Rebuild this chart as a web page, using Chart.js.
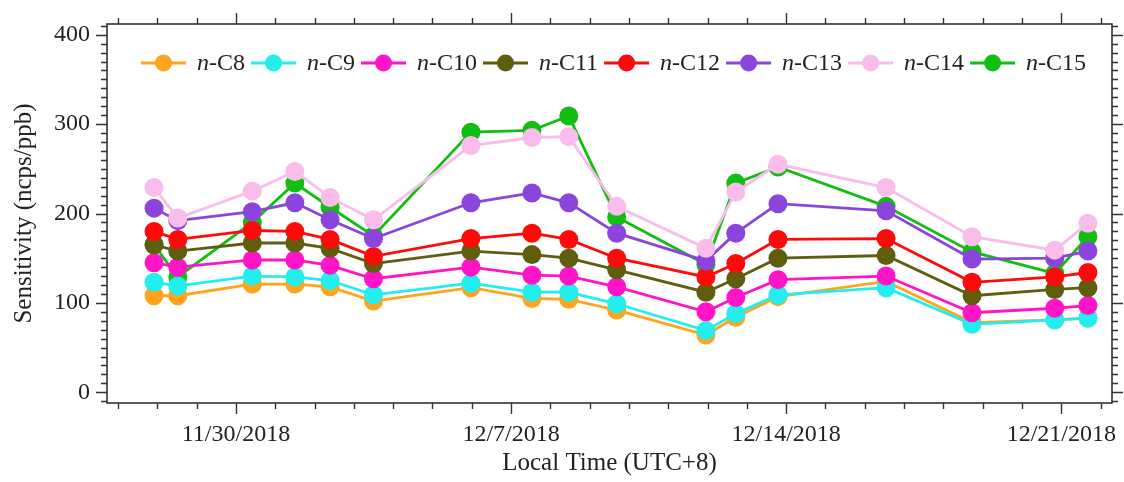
<!DOCTYPE html>
<html>
<head>
<meta charset="utf-8">
<script src="https://cdn.jsdelivr.net/npm/chart.js@4.4.0/dist/chart.umd.min.js"></script>
<style>
  html, body { margin: 0; padding: 0; background: #fff; }
  #wrap { width: 1124px; height: 482px; position: relative; }
</style>
</head>
<body>
<div id="wrap"><canvas id="chart"></canvas></div>
<script>
// ── Data ───────────────────────────────────────────────────────────────────
const sampleTimes = [
  '11/27 22:00', '11/28 12:30', '11/30 10:00', '12/01 12:00', '12/02 09:30',
  '12/03 12:00', '12/05 23:30', '12/07 12:45', '12/08 11:15', '12/09 16:30',
  '12/11 23:00', '12/12 17:15', '12/13 19:00', '12/16 13:00', '12/18 17:30',
  '12/20 20:00', '12/21 16:15',
];

const nC8  = [108, 108, 121, 121, 118, 102, 117, 105, 104,  92,  64,  84, 107, 124,  78,  81,  83];
const nC9  = [123, 119, 130, 129, 125, 109, 122, 112, 112,  99,  69,  88, 109, 117,  76,  81,  83];
const nC10 = [145, 140, 148, 148, 142, 127, 140, 131, 130, 118,  90, 106, 126, 130,  89,  94,  97];
const nC11 = [165, 158, 167, 167, 161, 144, 158, 154, 150, 137, 112, 127, 150, 153, 108, 115, 117];
const nC12 = [180, 171, 181, 180, 171, 152, 172, 178, 171, 150, 129, 144, 171, 172, 123, 129, 134];
const nC13 = [206, 192, 202, 212, 193, 172, 212, 223, 212, 178, 147, 178, 211, 203, 149, 150, 158];
const nC14 = [229, 195, 225, 247, 218, 193, 276, 285, 286, 208, 161, 224, 255, 229, 174, 159, 189];
const nC15 = [165, 129, 190, 234, 207, 175, 291, 293, 309, 196, 143, 234, 252, 208, 157, 133, 174];

const seriesNames  = ['C8', 'C9', 'C10', 'C11', 'C12', 'C13', 'C14', 'C15'];
const seriesValues = [nC8, nC9, nC10, nC11, nC12, nC13, nC14, nC15];
const seriesColors = ['#FFA41C', '#22EEEE', '#FF14C8', '#5E5E0E', '#FF0A0A', '#8B45DD', '#FABCEA', '#12BE12'];
// which series sits on top (lower = drawn later)
const seriesOrder  = [7, 6, 5, 4, 3, 2, 1, 8];

const xTickLabels = ['11/30/2018', '12/7/2018', '12/14/2018', '12/21/2018'];
const yTicks      = [0, 100, 200, 300, 400];

// ── Helpers ────────────────────────────────────────────────────────────────
const DAY = 86400000;
const ORIGIN = Date.UTC(2018, 10, 30);

function timeToDays(s) {          // 'MM/DD HH:mm' in 2018
  const [md, hm] = s.split(' ');
  const [m, d]   = md.split('/').map(Number);
  const [h, mi]  = hm.split(':').map(Number);
  return (Date.UTC(2018, m - 1, d, h, mi) - ORIGIN) / DAY;
}
function labelToDays(s) {         // 'M/D/YYYY'
  const [m, d, y] = s.split('/').map(Number);
  return (Date.UTC(y, m - 1, d) - ORIGIN) / DAY;
}

const xDays  = sampleTimes.map(timeToDays);
const xMajor = xTickLabels.map(labelToDays);

const FONT = "'Liberation Serif', 'Times New Roman', serif";
const INK  = '#222';

// ── Plugins: frame + ticks on all sides, legend with italic n ─────────────
const frameTicks = {
  id: 'frameTicks',
  afterDraw(chart) {
    const { ctx, chartArea: a, scales: { x, y } } = chart;
    ctx.save();
    ctx.strokeStyle = '#333';
    ctx.lineWidth = 1.6;
    ctx.strokeRect(a.left, a.top, a.right - a.left, a.bottom - a.top);

    ctx.lineWidth = 1.4;
    ctx.beginPath();
    for (let d = Math.ceil(x.min); d <= Math.floor(x.max); d++) {
      const px = Math.round(x.getPixelForValue(d)) + 0.5;
      const len = xMajor.includes(d) ? 11 : 6;
      ctx.moveTo(px, a.bottom); ctx.lineTo(px, a.bottom + len);
      ctx.moveTo(px, a.top);    ctx.lineTo(px, a.top - len);
    }
    for (let v = Math.ceil(y.min / 10) * 10; v <= y.max; v += 10) {
      const py = Math.round(y.getPixelForValue(v)) + 0.5;
      const len = v % 100 === 0 ? 11 : 6;
      ctx.moveTo(a.left, py);  ctx.lineTo(a.left - len, py);
      ctx.moveTo(a.right, py); ctx.lineTo(a.right + len, py);
    }
    ctx.stroke();
    ctx.restore();
  },
};

const italicLegend = {
  id: 'italicLegend',
  afterDatasetsDraw(chart) {
    const { ctx, chartArea: a } = chart;
    const cy = a.top + 39;
    let cx = a.left + 34;
    ctx.save();
    ctx.textBaseline = 'middle';
    chart.data.datasets.forEach((ds, i) => {
      ctx.strokeStyle = ds.borderColor;
      ctx.lineWidth = 2.8;
      ctx.beginPath();
      ctx.moveTo(cx, cy); ctx.lineTo(cx + 45, cy);
      ctx.stroke();
      ctx.fillStyle = ds.backgroundColor;
      ctx.beginPath();
      ctx.arc(cx + 22.5, cy, 8.5, 0, Math.PI * 2);
      ctx.fill();
      cx += 56;
      ctx.fillStyle = INK;
      ctx.font = `italic 24px ${FONT}`;
      ctx.fillText('n', cx, cy + 1);
      cx += ctx.measureText('n').width;
      ctx.font = `24px ${FONT}`;
      const rest = '-' + seriesNames[i];
      ctx.fillText(rest, cx, cy + 1);
      cx += ctx.measureText(rest).width + 6;
    });
    ctx.restore();
  },
};

// ── Chart ──────────────────────────────────────────────────────────────────
const datasets = seriesNames.map((name, i) => ({
  label: 'n-' + name,
  data: xDays.map((d, k) => ({ x: d, y: seriesValues[i][k] })),
  borderColor: seriesColors[i],
  backgroundColor: seriesColors[i],
  pointBackgroundColor: seriesColors[i],
  pointBorderColor: seriesColors[i],
  borderWidth: 2.8,
  pointRadius: 9.5,
  pointBorderWidth: 0,
  tension: 0,
  order: seriesOrder[i],
}));

new Chart(document.getElementById('chart'), {
  type: 'line',
  data: { datasets },
  options: {
    responsive: true,
    maintainAspectRatio: false,
    animation: false,
    events: [],
    layout: { padding: { left: 0, top: 24, right: 12, bottom: 0 } },
    plugins: { legend: { display: false }, tooltip: { enabled: false } },
    scales: {
      x: {
        type: 'linear',
        min: -3.28,
        max: 22.29,
        grid: { display: false, drawTicks: false },
        border: { display: false },
        afterBuildTicks: s => { s.ticks = xMajor.map(v => ({ value: v })); },
        afterFit: s => { s.height = 79; s.paddingLeft = 0; s.paddingRight = 0; },
        ticks: {
          autoSkip: false,
          maxRotation: 0,
          padding: 17,
          color: INK,
          font: { family: FONT, size: 24 },
          callback: v => xTickLabels[xMajor.indexOf(v)] ?? '',
        },
        title: {
          display: true,
          text: 'Local Time (UTC+8)',
          color: INK,
          font: { family: FONT, size: 25 },
          padding: { top: 0, bottom: 4 },
        },
      },
      y: {
        min: -12,
        max: 412,
        grid: { display: false, drawTicks: false },
        border: { display: false },
        afterBuildTicks: s => { s.ticks = yTicks.map(v => ({ value: v })); },
        afterFit: s => { s.width = 107; s.paddingTop = 0; s.paddingBottom = 0; },
        ticks: {
          padding: 17,
          color: INK,
          font: { family: FONT, size: 24 },
        },
        title: {
          display: true,
          text: 'Sensitivity (ncps/ppb)',
          color: INK,
          font: { family: FONT, size: 25 },
          padding: { top: 9, bottom: 0 },
        },
      },
    },
  },
  plugins: [frameTicks, italicLegend],
});
</script>
</body>
</html>
